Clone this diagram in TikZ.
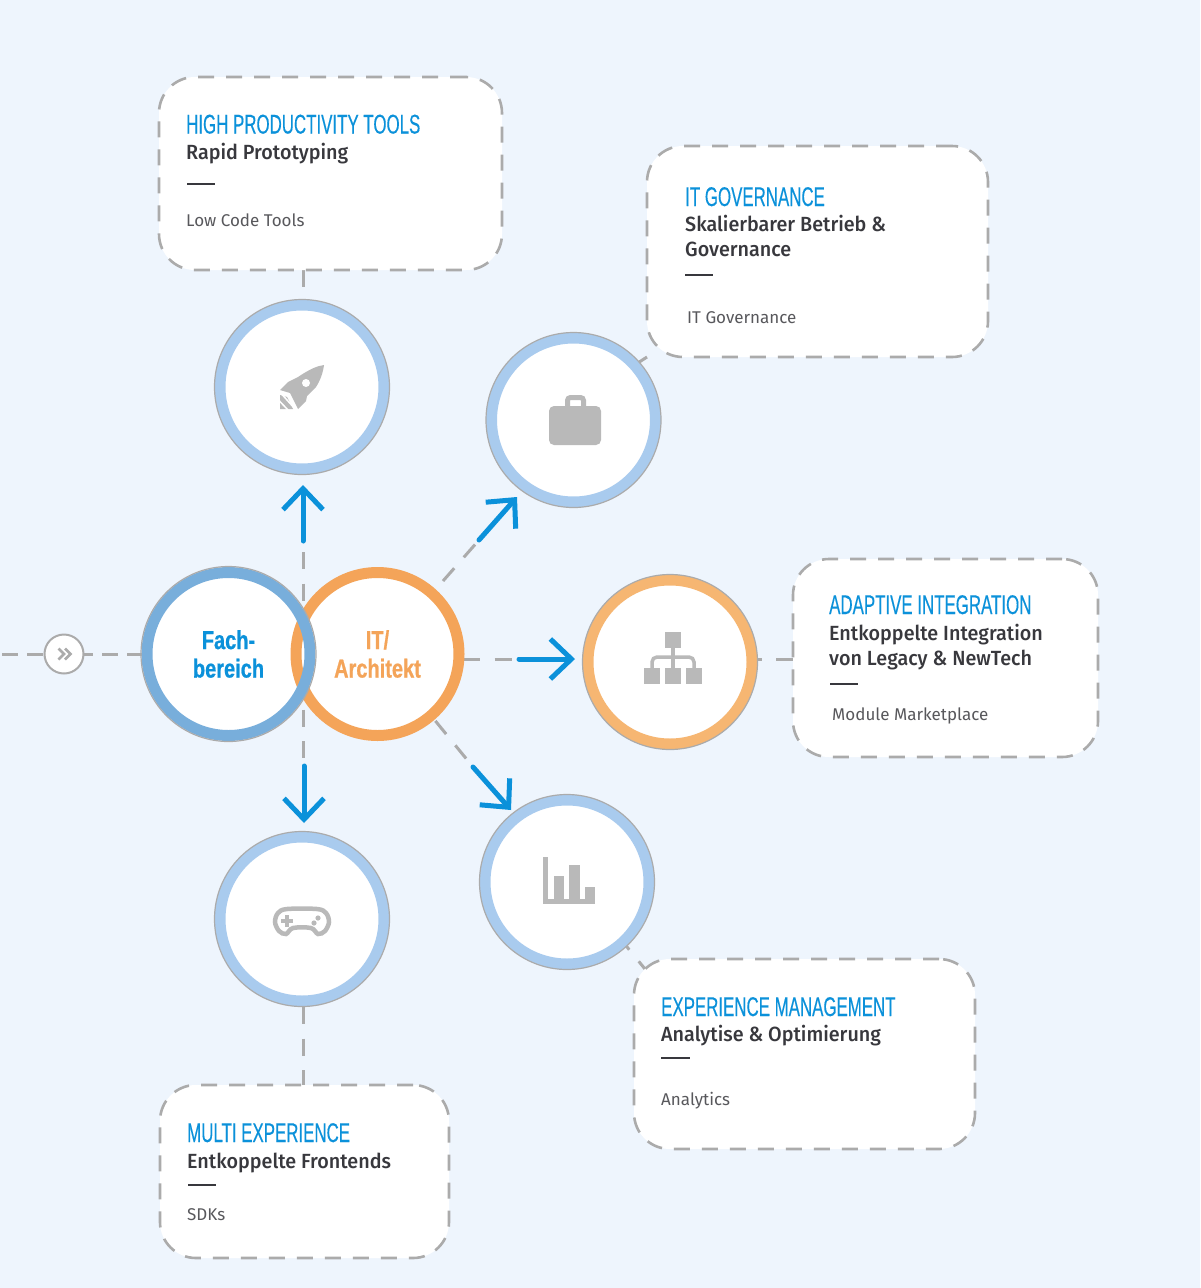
\documentclass[tikz,border=0pt]{standalone}
\usepackage{fontspec}
\setmainfont{Fira Sans}
\newfontfamily\headfont[FakeStretch=0.625,FakeBold=0.25]{Liberation Sans}
\newfontfamily\corefont[FakeStretch=0.77,FakeBold=0.7]{Liberation Sans Bold}
\newfontfamily\subfont[FakeStretch=0.963]{Fira Sans Medium}
\usetikzlibrary{arrows.meta,backgrounds}

\definecolor{pagebg}{HTML}{EEF5FD}
\definecolor{linegray}{HTML}{ABABAB}
\definecolor{icongray}{HTML}{B9B9B9}
\definecolor{flowblue}{HTML}{0B91DA}
\definecolor{ringblue}{HTML}{A9CBEE}
\definecolor{ringorange}{HTML}{F6B672}
\definecolor{fachblue}{HTML}{78AEDB}
\definecolor{itorange}{HTML}{F4A459}
\definecolor{darktext}{HTML}{38383D}
\definecolor{softtext}{HTML}{58585C}

\tikzset{
  ringnode/.style={circle,fill=white,line width=11pt,minimum size=164pt,inner sep=0pt,outer sep=0pt},
  ringedge/.style={draw=linegray,line width=1.2pt},
  infobox/.style={draw=linegray,fill=white,line width=2.6pt,dash pattern=on 16pt off 12pt,rounded corners=36pt,inner sep=0pt,outer sep=0pt},
  dashline/.style={draw=linegray,line width=3pt,dash pattern=on 17pt off 14.5pt},
  flowarrow/.style={draw=flowblue,line width=5pt,line cap=round,-{Straight Barb[length=21pt,width=40pt]}},
  headtext/.style={anchor=base west,inner sep=0pt,text=flowblue,font=\headfont\fontsize{27}{30}\selectfont},
  subtext/.style={anchor=base west,inner sep=0pt,text=darktext,font=\subfont\fontsize{20.5}{25}\selectfont},
  smalltext/.style={anchor=base west,inner sep=0pt,text=softtext,font=\fontsize{17}{20}\selectfont},
  rulebar/.style={draw=darktext,line width=2.6pt},
  corelabel/.style={align=center,font=\corefont\fontsize{26}{28.5}\selectfont},
  iconline/.style={draw=icongray,line width=3.5pt}
}

\begin{document}
\begin{tikzpicture}[x=1pt,y=-1pt]
\useasboundingbox (0,0) rectangle (1200,1288);

% the five info boxes
\foreach \boxname/\l/\t/\r/\b in {toolsbox/159/77/502/270,govbox/647/146/988/357,integbox/793/559/1098/757,expbox/634/959/975/1149,multibox/160/1085/449/1258}{
    \node[infobox,minimum width={\r-\l},minimum height={\b-\t}] (\boxname) at ({(\l+\r)/2},{(\t+\b)/2}) {};
}

% the circles round the core
\foreach \ringname/\x/\y/\colour in {rocket/302/387/ringblue,case/573.5/420/ringblue,tree/670/662/ringorange,chart/567/882/ringblue,pad/302/919/ringblue}{
    \node[ringnode,draw=\colour] (\ringname) at (\x,\y) {};
    \draw[ringedge] (\ringname.center) circle (87.5);
}

% the core: the blue ring lies over the orange one
\node[ringnode,minimum size=163pt] (fach) at (228.5,654) {};
\node[ringnode,draw=itorange,minimum size=163pt,text=itorange,corelabel] (it) at (377.5,654) {IT/\\Architekt};
\draw[draw=fachblue,line width=11pt] (fach.center) circle (81.5);
\draw[ringedge] (fach.center) circle (87.5);
\node[text=flowblue,corelabel] (fachlabel) at (fach.center) {Fach-\\bereich};

% entry point on the left
\coordinate (entry) at (0,654);
\node[circle,draw=linegray,fill=white,line width=2pt,minimum size=39pt,inner sep=0pt] (gate) at (64,654) {};
\draw[draw=linegray,line width=2.5pt] (58.5,648.5) -- (64,654) -- (58.5,659.5) (65,648.5) -- (70.5,654) -- (65,659.5);

% box texts
\node[headtext] (toolshead) at (186,133.5) {HIGH PRODUCTIVITY TOOLS};
\node[subtext] (toolssub) at (186,159) {Rapid Prototyping};
\draw[rulebar] (187,184) -- (215,184);
\node[smalltext] (toolsitem) at (186,226) {Low Code Tools};

\node[headtext] (govhead) at (685,206) {IT GOVERNANCE};
\node[subtext] (govsub) at (685,231) {Skalierbarer Betrieb \&};
\node[subtext] (govsubb) at (685,256) {Governance};
\draw[rulebar] (685,275) -- (713,275);
\node[smalltext] (govitem) at (687,323) {IT Governance};

\node[headtext] (integhead) at (829,614) {ADAPTIVE INTEGRATION};
\node[subtext] (integsub) at (829,640) {Entkoppelte Integration};
\node[subtext] (integsubb) at (829,665) {von Legacy \& NewTech};
\draw[rulebar] (830,684) -- (858,684);
\node[smalltext] (integitem) at (832,720) {Module Marketplace};

\node[headtext] (exphead) at (661,1016) {EXPERIENCE MANAGEMENT};
\node[subtext] (expsub) at (661,1041) {Analytise \& Optimierung};
\draw[rulebar] (661,1058) -- (690,1058);
\node[smalltext] (expitem) at (661,1105) {Analytics};

\node[headtext] (multihead) at (187,1142) {MULTI EXPERIENCE};
\node[subtext] (multisub) at (187,1168) {Entkoppelte Frontends};
\draw[rulebar] (188,1185) -- (216,1185);
\node[smalltext] (multiitem) at (187,1220) {SDKs};

% rocket
\fill[icongray] (324,365) .. controls (317,366) and (310,369) .. (298,377) -- (288,382) -- (280,390) -- (290,393)
    -- (298,409) -- (306,401) -- (307,396) -- (316,387) .. controls (320,381) and (323,373) .. (324,365);
\fill[white] (306,383) circle (4);
\fill[icongray] (280,395) -- (287,397) -- (293,409) -- (280,409) -- cycle;
\draw[draw=white,line width=1.5pt] (279,400.5) -- (288,410) (282.5,395) -- (296,410);

% briefcase
\fill[icongray,rounded corners=5pt] (549,406) rectangle (601,445);
\draw[iconline,line width=5pt,rounded corners=3pt] (567.5,407) -- (567.5,397.5) -- (583.5,397.5) -- (583.5,407);

% hierarchy
\foreach \sx/\sy in {665/632,644/668,665/668,686/668}{
    \fill[icongray] (\sx,\sy) rectangle ++(16,16);
}
\draw[iconline] (673,647) -- (673,669);
\draw[iconline,rounded corners=5pt] (652,669) -- (652,657) -- (694,657) -- (694,669);

% bar chart
\foreach \sx/\wd/\sy in {543/5/857,554/10/876,569/11/865,585/10/887}{
    \fill[icongray] (\sx,\sy) rectangle ++(\wd,{904-\sy});
}
\fill[icongray] (543,899) rectangle (595,904);

% game pad
\draw[draw=icongray,line width=4.5pt] plot[smooth cycle,tension=0.55] coordinates {(287,909) (317,909) (326,913) (329,922) (325,931) (318,934) (311,928) (293,928) (286,934) (279,931) (275,922) (278,913)};
\draw[iconline,line width=3.5pt] (281,921) -- (293,921) (287,915) -- (287,927);
\fill[icongray] (318,918) circle (2.6) (314,923) circle (2.6);

% the blue arrows
\coordinate (uptail) at (303,541);
\coordinate (uptip) at (303,485);
\coordinate (casetail) at (479,540);
\coordinate (casetip) at (517,497);
\coordinate (treetail) at (519,659);
\coordinate (treetip) at (575,659);
\coordinate (downtail) at (304,766);
\coordinate (downtip) at (304,823);
\coordinate (charttail) at (473,767);
\coordinate (charttip) at (511,810);
\foreach \from/\to in {uptail/uptip,casetail/casetip,treetail/treetip,downtail/downtip,charttail/charttip}{
    \draw[flowarrow] (\from) -- (\to);
}

% grey connectors lie behind everything
\begin{pgfonlayer}{background}
\fill[pagebg] (0,0) rectangle (1200,1288);
\draw[dashline] (303,270) -- (303,300);
\draw[dashline,dash phase=17.5] (303,475) -- (303,832);
\draw[dashline] (303,1007) -- (303,1085);
\coordinate (itne) at (443,581);
\draw[dashline] (itne) -- (casetail);
\draw[dashline,dash phase=24.5] (it.-49) -- (charttail);
\coordinate (itmid) at (it.east |- treetail);
\draw[dashline,dash phase=27.5] (itmid) -- (treetail);
\draw[dashline,dash phase=7] (tree.2) -- (tree.2 -| integbox.west);
\draw[dashline] (case.42) -- (govbox.south west);
\draw[dashline,dash pattern=on 0pt off 4pt on 6pt off 15pt on 20pt off 20pt] (chart.-47) -- (645,969);
\draw[dashline,dash pattern=on 16pt off 9pt,dash phase=23] (entry) -- (fach.180);
\end{pgfonlayer}
\end{tikzpicture}
\end{document}
